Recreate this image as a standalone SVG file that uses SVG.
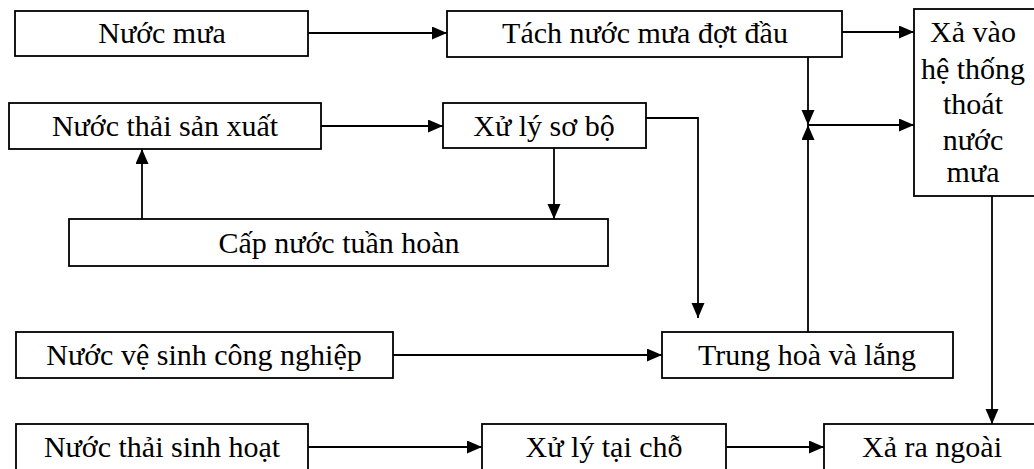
<svg xmlns="http://www.w3.org/2000/svg" width="1034" height="469" viewBox="0 0 1034 469">
<style>
.box{fill:#fff;stroke:#000;stroke-width:1.8}
.t{font-family:"Liberation Serif","Times New Roman",serif;font-size:30px;fill:#000;text-anchor:middle}
.c{fill:none;stroke:#000;stroke-width:1.8}
</style>
<defs>
<marker id="ah" markerUnits="userSpaceOnUse" markerWidth="16" markerHeight="14" refX="15" refY="6.5" orient="auto">
<path d="M0,0 L15,6.5 L0,13 z" fill="#000"/>
</marker>
</defs>
<rect width="1034" height="469" fill="#fff"/>
<g id="connectors">
<line class="c" x1="308" y1="33" x2="447" y2="33" marker-end="url(#ah)"/>
<line class="c" x1="842" y1="32" x2="914" y2="32" marker-end="url(#ah)"/>
<line class="c" x1="321" y1="126" x2="443" y2="126" marker-end="url(#ah)"/>
<line class="c" x1="142" y1="219" x2="142" y2="149" marker-end="url(#ah)"/>
<line class="c" x1="554" y1="148" x2="554" y2="219" marker-end="url(#ah)"/>
<polyline class="c" points="646,118 698,118 698,318" marker-end="url(#ah)"/>
<line class="c" x1="808" y1="332" x2="808" y2="125" marker-end="url(#ah)"/>
<line class="c" x1="808" y1="57" x2="808" y2="125" marker-end="url(#ah)"/>
<line class="c" x1="808" y1="125" x2="914" y2="125" marker-end="url(#ah)"/>
<line class="c" x1="393" y1="355" x2="662" y2="355" marker-end="url(#ah)"/>
<line class="c" x1="992" y1="196" x2="992" y2="424" marker-end="url(#ah)"/>
<line class="c" x1="308" y1="447" x2="482" y2="447" marker-end="url(#ah)"/>
<line class="c" x1="726" y1="447" x2="824" y2="447" marker-end="url(#ah)"/>
</g>
<g id="nuoc-mua"><rect class="box" x="15" y="11" width="293" height="45"/><text class="t" x="162" y="43">Nước mưa</text></g>
<g id="tach-nuoc-mua"><rect class="box" x="447" y="11" width="395" height="46"/><text class="t" x="645" y="43">Tách nước mưa đợt đầu</text></g>
<g id="xa-vao-he-thong"><rect class="box" x="914" y="9" width="122" height="187"/>
<text class="t" x="973" y="42">Xả vào</text><text class="t" x="973" y="79">hệ thống</text><text class="t" x="973" y="114">thoát</text><text class="t" x="973" y="150">nước</text><text class="t" x="973" y="182">mưa</text></g>
<g id="nuoc-thai-san-xuat"><rect class="box" x="9" y="103" width="312" height="46"/><text class="t" x="165" y="136">Nước thải sản xuất</text></g>
<g id="xu-ly-so-bo"><rect class="box" x="443" y="103" width="203" height="45"/><text class="t" x="544" y="136">Xử lý sơ bộ</text></g>
<g id="cap-nuoc-tuan-hoan"><rect class="box" x="69" y="219" width="539" height="47"/><text class="t" x="339" y="253">Cấp nước tuần hoàn</text></g>
<g id="nuoc-ve-sinh"><rect class="box" x="16" y="332" width="377" height="46"/><text class="t" x="204" y="365">Nước vệ sinh công nghiệp</text></g>
<g id="trung-hoa"><rect class="box" x="662" y="332" width="291" height="46"/><text class="t" x="807" y="365">Trung hoà và lắng</text></g>
<g id="nuoc-thai-sinh-hoat"><rect class="box" x="16" y="424" width="292" height="50"/><text class="t" x="162" y="457">Nước thải sinh hoạt</text></g>
<g id="xu-ly-tai-cho"><rect class="box" x="482" y="424" width="244" height="50"/><text class="t" x="604" y="457">Xử lý tại chỗ</text></g>
<g id="xa-ra-ngoai"><rect class="box" x="824" y="424" width="220" height="50"/><text class="t" x="932" y="457">Xả ra ngoài</text></g>
</svg>
